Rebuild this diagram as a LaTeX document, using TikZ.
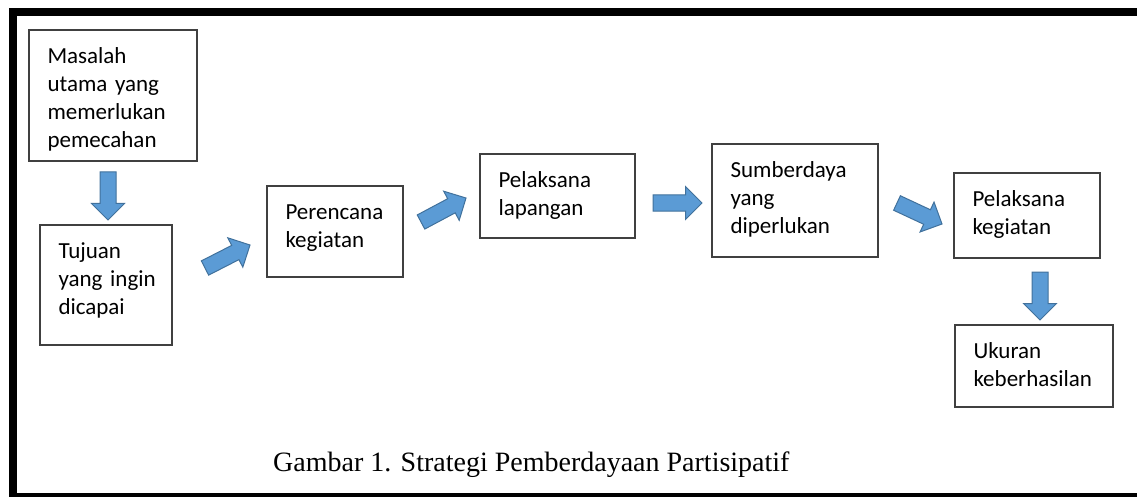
\documentclass[tikz,border=0pt]{standalone}
\usepackage{fontspec}
\setmainfont{Carlito}
\newfontfamily\capfont{Liberation Serif}
\usetikzlibrary{shapes.arrows,calc}
\definecolor{arrowfill}{HTML}{5B9BD5}
\definecolor{arrowline}{HTML}{41719C}
\definecolor{boxline}{HTML}{404040}
\tikzset{
  box/.style={draw=boxline, line width=1.2pt, rectangle, inner sep=0pt, outer sep=0pt,
    align=left, font=\fontsize{23}{28}\selectfont, text height=33.5pt},
  blockarrow/.style={single arrow, fill=arrowfill, draw=arrowline, line width=1pt,
    inner xsep=0pt, inner ysep=7.5pt, single arrow head extend=8.5pt, single arrow tip angle=90,
    outer sep=0pt},
  frame/.style={fill=black},
}
\newcommand\blockarr[3]{%
  \path let \p1=($(#3)-(#2)$), \n1={atan2(\y1,\x1)}, \n2={veclen(\x1,\y1)} in
    node[blockarrow, minimum height=\n2, rotate=\n1, anchor=tail] (#1) at (#2) {};}
\begin{document}
\begin{tikzpicture}[x=1pt,y=-1pt]
\useasboundingbox (0,0) rectangle (1137,497);
% frame
\fill[frame] (9,8) rectangle (1137,16);
\fill[frame] (9,8) rectangle (16.5,497);
\fill[frame] (9,493) rectangle (1137,497);
% boxes
\node[box, minimum width=168pt, minimum height=131pt, text depth=97.5pt, text width=131pt] (masalah) at (113,95.5)
  {Masalah\\\mbox{utama yang}\\memerlukan\\pemecahan};
\node[box, minimum width=132pt, minimum height=120pt, text depth=86.5pt, text width=95pt] (tujuan) at (106,285)
  {Tujuan\\\mbox{yang ingin}\\dicapai};
\node[box, minimum width=136pt, minimum height=91pt, text depth=57.5pt, text width=99pt] (perencana) at (335,231.5)
  {Perencana\\kegiatan};
\node[box, minimum width=155pt, minimum height=84pt, text depth=50.5pt, text width=118pt] (lapangan) at (557.5,196)
  {Pelaksana\\lapangan};
\node[box, minimum width=166pt, minimum height=113pt, text depth=79.5pt, text width=129pt] (sumber) at (795,200.5)
  {Sumberdaya\\yang\\diperlukan};
\node[box, minimum width=146pt, minimum height=85pt, text depth=51.5pt, text width=109pt] (pelaksana) at (1027,215.5)
  {Pelaksana\\kegiatan};
\node[box, minimum width=158pt, minimum height=82pt, text depth=48.5pt, text width=121pt] (ukuran) at (1034,366)
  {Ukuran\\keberhasilan};
% arrow end points
\coordinate (a1s) at (108,172); \coordinate (a1e) at (108,220);
\coordinate (a2s) at (205,268); \coordinate (a2e) at (250,245);
\coordinate (a3s) at (421,222); \coordinate (a3e) at (466,198);
\coordinate (a4s) at (653,203); \coordinate (a4e) at (702,203);
\coordinate (a5s) at (897,203); \coordinate (a5e) at (942,224);
\coordinate (a6s) at (1040,272); \coordinate (a6e) at (1040,320);
\blockarr{arr1}{a1s}{a1e}
\blockarr{arr2}{a2s}{a2e}
\blockarr{arr3}{a3s}{a3e}
\blockarr{arr4}{a4s}{a4e}
\blockarr{arr5}{a5s}{a5e}
\blockarr{arr6}{a6s}{a6e}
% caption
\node[anchor=base west, inner sep=0pt, font=\capfont\fontsize{28}{32}\selectfont] (caption) at (273,471)
  {Gambar 1. Strategi Pemberdayaan Partisipatif};
\end{tikzpicture}
\end{document}
